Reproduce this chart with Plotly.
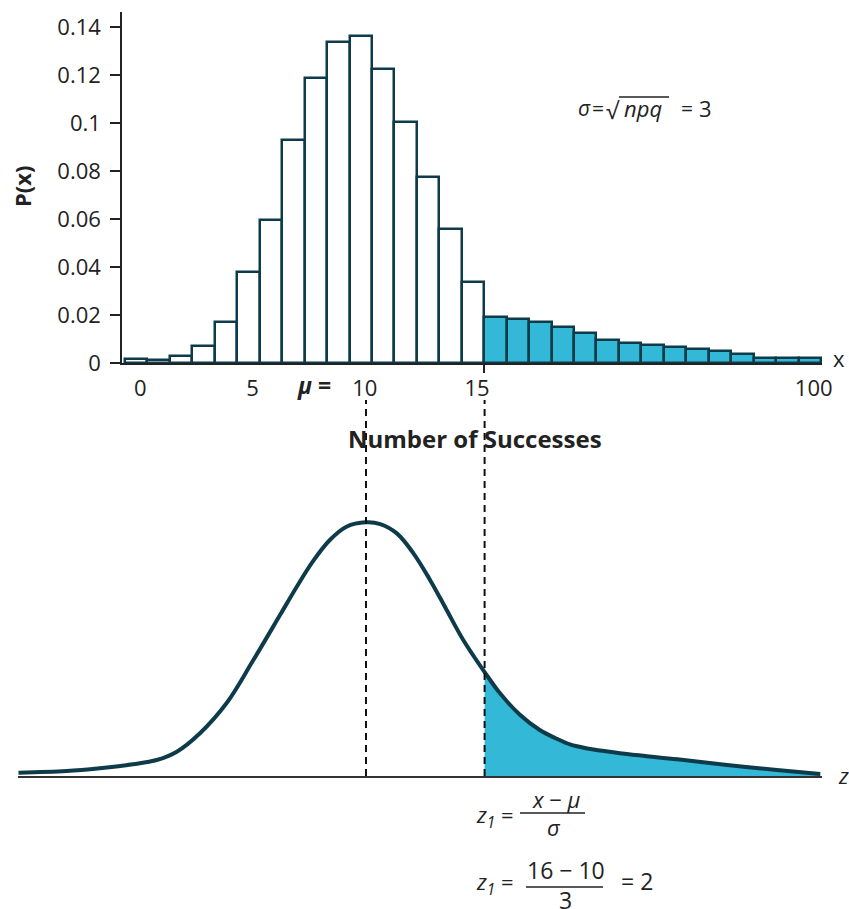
import plotly.graph_objects as go

# ---------------- data ----------------
# top: binomial probabilities (x = 0..15 drawn individually, tail 16..100 compressed)
bar_index = list(range(31))
bar_probs = [0.0017, 0.0014, 0.0030, 0.0070, 0.0170, 0.0380, 0.0596, 0.0929,
             0.1189, 0.1338, 0.1361, 0.1224, 0.1006, 0.0775, 0.0557, 0.0338,
             0.0192, 0.0183, 0.0170, 0.0150, 0.0124, 0.0096, 0.0085, 0.0074,
             0.0065, 0.0057, 0.0049, 0.0036, 0.0020, 0.0020, 0.0020]
shade_from = 16

x_tick_vals = [0, 5, 10, 15, 30]
x_tick_text = ["0", "5", "10", "15", "100"]
y_tick_vals = [0, 0.02, 0.04, 0.06, 0.08, 0.10, 0.12, 0.14]
y_tick_text = ["0", "0.02", "0.04", "0.06", "0.08", "0.1", "0.12", "0.14"]

# bottom: approximating curve (z units, density)
curve_z = [-5.86, -5.05, -4.49, -3.93, -3.53, -3.19, -2.80, -2.35, -1.91, -1.45,
           -1.17, -0.89, -0.61, -0.33, 0.00, 0.24, 0.52, 0.80, 1.08, 1.36,
           1.64, 2.00, 2.26, 2.60, 2.93, 3.19, 3.44, 3.73, 4.40, 5.25,
           6.09, 6.93, 7.66]
curve_y = [0.0017, 0.0026, 0.0041, 0.0062, 0.0084, 0.0128, 0.0225, 0.0384, 0.0605, 0.0847,
           0.0995, 0.1132, 0.1242, 0.1312, 0.1335, 0.1326, 0.1277, 0.1172, 0.1032, 0.0874,
           0.0716, 0.0547, 0.0435, 0.0321, 0.0242, 0.0200, 0.0166, 0.0145, 0.0116, 0.0088,
           0.0058, 0.0032, 0.0011]
mu_z = 0
z1 = 2

# ---------------- styling ----------------
W, H = 849, 909
FONT = "Open Sans"
DARK = "#0e3b4a"
BLUE = "#33b8d7"
TXT = "#222222"


def px(xp):
    return xp / W


def py(yp):
    return 1 - yp / H


fig = go.Figure()

bar_colors = ["white" if i < shade_from else BLUE for i in bar_index]
fig.add_trace(go.Bar(
    x=bar_index, y=bar_probs, width=1,
    marker=dict(color=bar_colors, line=dict(color=DARK, width=2.5)),
    xaxis="x", yaxis="y", showlegend=False, hoverinfo="skip",
))

tail_z = [z for z in curve_z if z >= z1]
tail_y = [y for z, y in zip(curve_z, curve_y) if z >= z1]
fig.add_trace(go.Scatter(
    x=tail_z, y=tail_y, mode="lines", line=dict(width=0, shape="spline", color=BLUE),
    fill="tozeroy", fillcolor=BLUE, xaxis="x2", yaxis="y2", showlegend=False, hoverinfo="skip",
))
fig.add_trace(go.Scatter(
    x=curve_z, y=curve_y, mode="lines", line=dict(width=4, shape="spline", color=DARK),
    xaxis="x2", yaxis="y2", showlegend=False, hoverinfo="skip",
))

# top axes: y axis at x=122px, x axis at y=363px
unit = 22.45
x_left = -0.5 - 3 / unit
x_right = x_left + (822 - 122) / unit

fig.update_layout(
    width=W, height=H,
    margin=dict(l=0, r=0, t=0, b=0),
    paper_bgcolor="white", plot_bgcolor="white",
    bargap=0,
    font=dict(family=FONT, color=TXT, size=20),
    xaxis=dict(
        domain=[px(122), px(822)], range=[x_left, x_right], anchor="y",
        showgrid=False, zeroline=False, showline=True, linecolor=TXT, linewidth=1.5,
        tickmode="array", tickvals=x_tick_vals, ticktext=x_tick_text, ticks="",
        ticklabelshift=4, ticklabelstandoff=5,
        tickfont=dict(size=22, color=TXT, family=FONT),
        minor=dict(tickmode="array", tickvals=[15.5], ticks="outside", ticklen=8,
                   tickcolor=TXT, tickwidth=1.5),
        automargin=False,
    ),
    yaxis=dict(
        domain=[py(363), py(12)], range=[0, 0.14625], anchor="x",
        showgrid=False, zeroline=False, showline=True, linecolor=TXT, linewidth=1.5,
        tickmode="array", tickvals=y_tick_vals, ticktext=y_tick_text,
        ticks="outside", ticklen=10, tickcolor=TXT, tickwidth=1.5,
        ticklabelstandoff=5,
        tickfont=dict(size=22, color=TXT, family=FONT),
        automargin=False,
    ),
    xaxis2=dict(
        domain=[px(18), px(822)], range=[(18 - 366) / 59.3, (822 - 366) / 59.3], anchor="y2",
        showgrid=False, zeroline=False, showline=True, linecolor="#333333", linewidth=1.5,
        showticklabels=False, ticks="", automargin=False,
    ),
    yaxis2=dict(
        domain=[py(776), py(400)], range=[0, (776 - 400) / 1900], anchor="x2",
        showgrid=False, zeroline=False, showline=False, showticklabels=False, ticks="",
        automargin=False,
    ),
)

shapes = []
for zval in (mu_z, z1):
    shapes.append(dict(type="line", xref="x2", yref="paper", x0=zval, x1=zval,
                       y0=py(776), y1=py(400), layer="above",
                       line=dict(color="#111111", width=2, dash="7px,5px")))
# sqrt overline
shapes.append(dict(type="line", xref="paper", yref="paper", x0=px(619), x1=px(669),
                   y0=py(97), y1=py(97), line=dict(color=TXT, width=1.3)))
# fraction bars
shapes.append(dict(type="line", xref="paper", yref="paper", x0=px(520), x1=px(585),
                   y0=py(813), y1=py(813), line=dict(color=TXT, width=1.3)))
shapes.append(dict(type="line", xref="paper", yref="paper", x0=px(526), x1=px(603),
                   y0=py(887), y1=py(887), line=dict(color=TXT, width=1.3)))
fig.update_layout(shapes=shapes)


def ann(text, xp, yp, size=20, xanchor="center", angle=0):
    fig.add_annotation(text=text, x=px(xp), y=py(yp), xref="paper", yref="paper",
                       showarrow=False, xanchor=xanchor, yanchor="middle",
                       textangle=angle, font=dict(family=FONT, size=size, color=TXT))


ann("<b>P(x)</b>", 22, 187, size=22, angle=-90)
ann("x", 839, 358, size=22)
ann("<b><i>μ</i> =</b>", 314, 385, size=23)
ann("<b>Number of Successes</b>", 475, 438, size=24)

# sigma = sqrt(npq) = 3
ann("<i>σ</i>", 584, 108, size=21)
ann("=", 598, 108, size=21)
ann("√", 613, 110, size=23)
ann("<i>npq</i>", 643, 108, size=22)
ann("=", 687, 108, size=21)
ann("3", 705, 108, size=22)

ann("<i>z</i>", 843, 775, size=22)

ann("<i>z</i><sub><i>1</i></sub> =", 516, 816, size=22, xanchor="right")
ann("<i>x</i> − <i>μ</i>", 556, 799, size=22)
ann("<i>σ</i>", 554, 827, size=22)

ann("<i>z</i><sub><i>1</i></sub> =", 516, 883, size=22, xanchor="right")
ann("16 − 10", 566, 870, size=23)
ann("3", 565, 900, size=23)
ann("= 2", 637, 881, size=23)

fig.write_html("out.html", config={"displayModeBar": False},
               post_script="document.body.style.margin='0';")
